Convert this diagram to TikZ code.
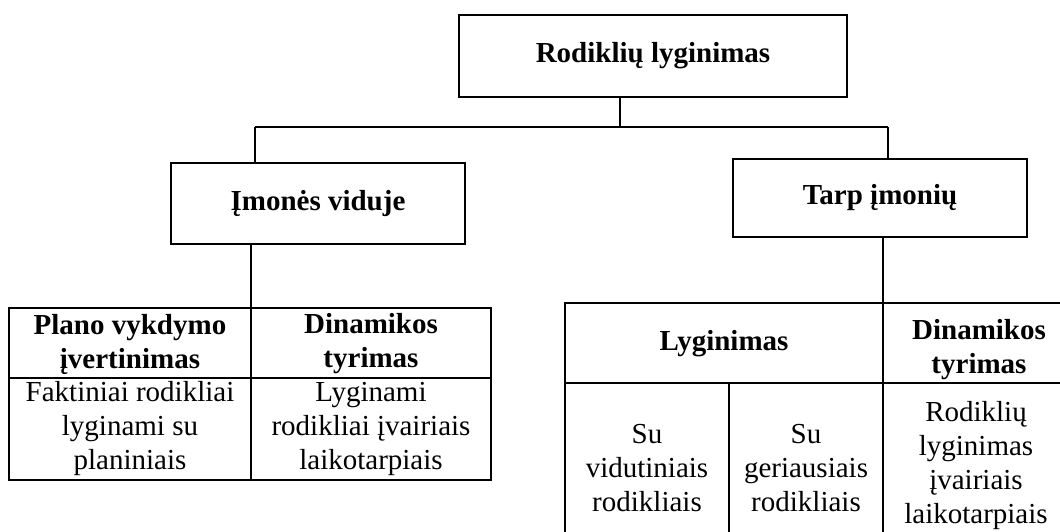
\documentclass[tikz,border=0pt]{standalone}
\usepackage{fontspec}
\setmainfont{Liberation Serif}
\usetikzlibrary{fit}
\begin{document}
\begin{tikzpicture}[x=0.5pt,y=-0.5pt,
  box/.style={draw, line width=1pt, inner sep=0pt, align=center,
    font=\fontsize{14.5}{17}\selectfont\bfseries},
  cell/.style={draw, line width=1pt, inner sep=0pt},
  lbl/.style={align=center, inner sep=0pt, font=\fontsize{14.5}{17}\selectfont},
  lblb/.style={lbl, font=\fontsize{14.5}{17}\selectfont\bfseries},
  conn/.style={line width=1pt}]
\useasboundingbox (0,0) rectangle (1060,531);

% boxes
\node[box, minimum width=194pt, minimum height=41pt] (top) at (653,56) {Rodiklių lyginimas};
\node[box, minimum width=147pt, minimum height=40.5pt] (left) at (318,203.5) {Įmonės viduje};
\node[box, minimum width=147pt, minimum height=39pt] (right) at (880,198) {Tarp įmonių};

% left table
\node[cell, fit={(9,308)(251,378)}] (lh1) {};
\node[cell, fit={(251,308)(491,378)}] (lh2) {};
\node[cell, fit={(9,378)(251,480)}] (lb1) {};
\node[cell, fit={(251,378)(491,480)}] (lb2) {};
\node[lblb] (tlh1) at (130,344) {Plano vykdymo\\įvertinimas};
\node[lblb] (tlh2) at (371,344) {Dinamikos\\tyrimas};
\node[lbl] (tlb1) at (130,429) {Faktiniai rodikliai\\lyginami su\\planiniais};
\node[lbl] (tlb2) at (371,429) {Lyginami\\rodikliai įvairiais\\laikotarpiais};

% right table
\node[cell, fit={(565,303)(883,383)}] (rh1) {};
\node[cell, fit={(883,303)(1075,383)}] (rh2) {};
\node[cell, fit={(565,383)(729,545)}] (rb1) {};
\node[cell, fit={(729,383)(883,545)}] (rb2) {};
\node[cell, fit={(883,383)(1075,545)}] (rb3) {};
\node[lblb] (trh1) at (724,344) {Lyginimas};
\node[lblb] (trh2) at (979,350) {Dinamikos\\tyrimas};
\node[lbl] (trb1) at (647,468) {Su\\vidutiniais\\rodikliais};
\node[lbl] (trb2) at (806,468) {Su\\geriausiais\\rodikliais};
\node[lbl] (trb3) at (976,466) {Rodiklių\\lyginimas\\įvairiais\\laikotarpiais};

% connectors
\coordinate (j) at (620,127);
\coordinate (jl) at (255,127);
\coordinate (jr) at (888,127);
\coordinate (dl) at (251,0);
\coordinate (dr) at (883,0);
\draw[conn] (top.south -| j) -- (j);
\draw[conn] (jl) -- (jr);
\draw[conn] (jl) -- (jl |- left.north);
\draw[conn] (jr) -- (jr |- right.north);
\draw[conn] (left.south -| dl) -- (lh1.north -| dl);
\draw[conn] (right.south -| dr) -- (rh1.north -| dr);
\end{tikzpicture}
\end{document}
